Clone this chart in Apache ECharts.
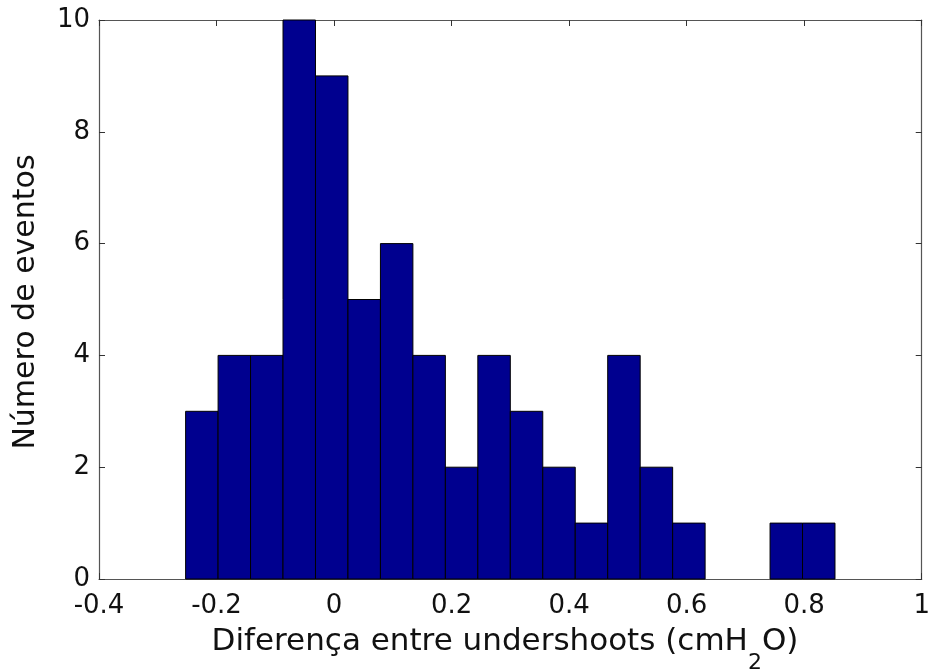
<!DOCTYPE html>
<html>
<head>
<meta charset="utf-8">
<script src="https://cdn.jsdelivr.net/npm/echarts@6/dist/echarts.min.js"></script>
<style>
html,body{margin:0;padding:0;background:#fff;}
#chart{width:933px;height:672px;}
</style>
</head>
<body>
<div id="chart"></div>
<script>
// Histogram data (bin edges in data units, counts per bin)
var binStart = -0.2526;
var binWidth = 0.05525;
var counts = [3, 4, 4, 10, 9, 5, 6, 4, 2, 4, 3, 2, 1, 4, 2, 1, 0, 0, 1, 1];
var xTicks = [-0.4, -0.2, 0, 0.2, 0.4, 0.6, 0.8, 1];
var yTicks = [0, 2, 4, 6, 8, 10];
var xLabelMain = 'Diferença entre undershoots (cmH';
var xLabelSub = '2';
var xLabelEnd = 'O)';
var yLabel = 'Número de eventos';

var bins = counts.map(function (c, i) {
  var lo = binStart + i * binWidth;
  return [lo, lo + binWidth, c];
});

var fontName = 'DejaVu Sans';
var font = fontName + ', Verdana, sans-serif';
var mainSize = 31, subSize = 22;

// measure the x-label pieces so the label (with its subscript) can be centred
var mctx = document.createElement('canvas').getContext('2d');
function measure(t, size) { mctx.font = size + 'px ' + font; return mctx.measureText(t).width; }
var w1 = measure(xLabelMain, mainSize);
var w2 = measure(xLabelSub, subSize);
var w3 = measure(xLabelEnd, mainSize);
var labelCenter = 505;
var x0 = labelCenter - (w1 + w2 + w3) / 2;

var chart = echarts.init(document.getElementById('chart'), null, {renderer: 'canvas'});

function axisLine() { return {show: true, onZero: false, lineStyle: {color: '#555', width: 1.2}}; }
function tickStyle() { return {show: true, inside: true, length: 6, lineStyle: {color: '#333', width: 1}}; }

function txt(x, y, text, size) {
  return {
    type: 'text', x: x, y: y,
    style: {text: text, align: 'left', verticalAlign: 'middle', fontFamily: font, fontSize: size, fill: '#111'}
  };
}

chart.setOption({
  animation: false,
  backgroundColor: '#fff',
  grid: {left: 99, right: 9, top: 20, bottom: 93, containLabel: false},
  xAxis: [{
    type: 'value', min: xTicks[0], max: xTicks[xTicks.length - 1], interval: 0.2, position: 'bottom',
    axisLine: axisLine(), axisTick: tickStyle(), splitLine: {show: false},
    axisLabel: {
      color: '#111', fontFamily: font, fontSize: 26, margin: 14,
      formatter: function (v) { var r = Math.round(v * 10) / 10; return String(r); }
    }
  }, {
    type: 'value', min: xTicks[0], max: xTicks[xTicks.length - 1], interval: 0.2, position: 'top',
    axisLine: axisLine(), axisTick: tickStyle(), axisLabel: {show: false}, splitLine: {show: false}
  }],
  yAxis: [{
    type: 'value', min: yTicks[0], max: yTicks[yTicks.length - 1], interval: 2, position: 'left',
    axisLine: axisLine(), axisTick: tickStyle(), splitLine: {show: false},
    axisLabel: {color: '#111', fontFamily: font, fontSize: 26, margin: 9}
  }, {
    type: 'value', min: yTicks[0], max: yTicks[yTicks.length - 1], interval: 2, position: 'right',
    axisLine: axisLine(), axisTick: tickStyle(), axisLabel: {show: false}, splitLine: {show: false}
  }],
  graphic: [
    txt(x0, 642, xLabelMain, mainSize),
    txt(x0 + w1, 663, xLabelSub, subSize),
    txt(x0 + w1 + w2, 642, xLabelEnd, mainSize),
    {
      type: 'text', x: 26, y: 302, rotation: Math.PI / 2,
      style: {
        text: yLabel, align: 'center', verticalAlign: 'middle',
        fontFamily: font, fontSize: 30, fill: '#111'
      }
    }
  ],
  series: [{
    type: 'custom',
    xAxisIndex: 0, yAxisIndex: 0,
    data: bins,
    encode: {x: [0, 1], y: 2},
    renderItem: function (params, api) {
      if (api.value(2) <= 0) { return null; }
      var p0 = api.coord([api.value(0), api.value(2)]);
      var p1 = api.coord([api.value(1), 0]);
      return {
        type: 'rect',
        shape: {x: p0[0], y: p0[1], width: p1[0] - p0[0], height: p1[1] - p0[1]},
        style: {fill: '#00008F', stroke: '#000', lineWidth: 1}
      };
    }
  }]
});
</script>
</body>
</html>
